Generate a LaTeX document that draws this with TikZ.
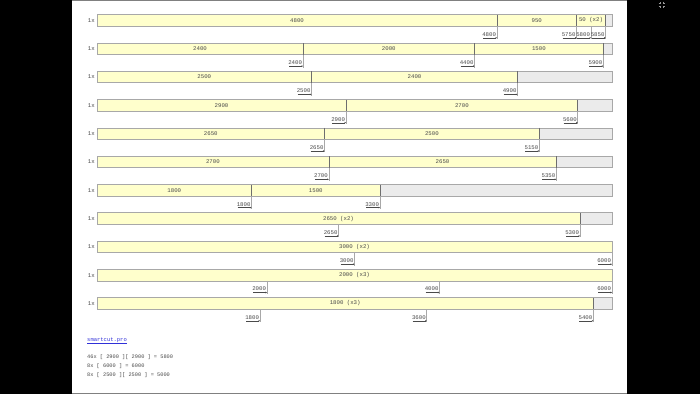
\documentclass[tikz,border=0pt]{standalone}
\usepackage{fontspec}
\setmonofont{Liberation Mono}
\usetikzlibrary{arrows.meta,calc}
\definecolor{barfill}{HTML}{FFFFCC}
\definecolor{wastefill}{HTML}{EBEBEB}
\definecolor{edgecol}{HTML}{A8A8A8}
\definecolor{divcol}{HTML}{6E6E6E}
\definecolor{txtcol}{HTML}{4A4A4A}
\definecolor{linkblue}{HTML}{3030D8}
\newcommand\rowH{11.5}
% #1 name, #2 top y, #3 x1, #4 x2, #5 label
\newcommand\cutseg[5]{%
  \path[fill=barfill] (#3,#2) rectangle (#4,{#2+\rowH});
  \node[barlabel] (#1) at ({(#3+#4)/2},{#2+\rowH/2}) {#5};
}
% #1 top y, #2 x where yellow ends
\newcommand\cutwaste[2]{%
  \path[fill=wastefill] (#2,#1) rectangle (612,{#1+\rowH});
}
% #1 top y
\newcommand\cutframe[1]{%
  \draw[edgecol, line width=0.7pt] (97,#1) rectangle (612,{#1+\rowH});
}
% #1 top y, #2 x
\newcommand\cutdiv[2]{%
  \draw[divcol, line width=0.6pt] (#2,#1) -- (#2,{#1+\rowH});
}
% #1 name, #2 top y, #3 x, #4 label
\newcommand\cuttick[4]{%
  \draw[edgecol, line width=0.5pt] (#3,{#2+\rowH}) -- (#3,{#2+\rowH+13});
  \node[ticklabel] (#1) at ({#3-0.8},{#2+\rowH+10}) {#4};
  \draw[txtcol, line width=0.35pt, -{Stealth[length=1.6pt,width=1.6pt]}] ({#3-14},{#2+\rowH+11.6}) -- (#3,{#2+\rowH+11.6});
}
% #1 name, #2 top y
\newcommand\cutcount[2]{%
  \node[countlabel] (#1) at (95,{#2+\rowH/2}) {1x};
}
\tikzset{
  barlabel/.style={inner sep=0pt, text=txtcol, font=\fontsize{5.7}{6}\selectfont\ttfamily},
  ticklabel/.style={inner sep=0pt, anchor=base east, text=txtcol, font=\fontsize{5.7}{6}\selectfont\ttfamily},
  countlabel/.style={inner sep=0pt, anchor=east, text=txtcol, font=\fontsize{5.7}{6}\selectfont\ttfamily},
  sumline/.style={inner sep=0pt, anchor=base west, text=txtcol, font=\fontsize{5.3}{6}\selectfont\ttfamily},
}
\begin{document}
\begin{tikzpicture}[x=1pt, y=-1pt]
\useasboundingbox (0,0) rectangle (700,394);
\fill[black] (0,0) rectangle (700,394);
\fill[white] (72,0) rectangle (627,394);
\draw[gray, line width=1pt] (72,0.5) -- (627,0.5);
\draw[gray, line width=1pt] (72,393.5) -- (627,393.5);
% fullscreen icon
\begin{scope}[draw=gray!80, line width=0.6pt]
  \draw (658.5,3) -- (660,3) -- (660,1.5);
  \draw (663,1.5) -- (663,3) -- (664.5,3);
  \draw (658.5,6) -- (660,6) -- (660,7.5);
  \draw (663,7.5) -- (663,6) -- (664.5,6);
\end{scope}

% Row 1
\def\ty{14.7}
\cutseg{r1a}{\ty}{97}{497}{4800}
\cutseg{r1b}{\ty}{497}{576.5}{950}
\cutseg{r1c}{\ty}{576.5}{605.5}{50 (x2)}
\cutwaste{\ty}{605.5}
\cutframe{\ty}
\cutdiv{\ty}{497}\cutdiv{\ty}{576.5}\cutdiv{\ty}{605.5}
\cutcount{r1n}{\ty}
\cuttick{r1t1}{\ty}{497}{4800}
\cuttick{r1t2}{\ty}{576.5}{5750}
\cuttick{r1t3}{\ty}{591}{5800}
\cuttick{r1t4}{\ty}{605.5}{5850}

% Row 2
\def\ty{43.0}
\cutseg{r2a}{\ty}{97}{303}{2400}
\cutseg{r2b}{\ty}{303}{474.5}{2000}
\cutseg{r2c}{\ty}{474.5}{603.3}{1500}
\cutwaste{\ty}{603.3}
\cutframe{\ty}
\cutdiv{\ty}{303}\cutdiv{\ty}{474.5}\cutdiv{\ty}{603.3}
\cutcount{r2n}{\ty}
\cuttick{r2t1}{\ty}{303}{2400}
\cuttick{r2t2}{\ty}{474.5}{4400}
\cuttick{r2t3}{\ty}{603.3}{5900}

% Row 3
\def\ty{71.3}
\cutseg{r3a}{\ty}{97}{311.5}{2500}
\cutseg{r3b}{\ty}{311.5}{517.5}{2400}
\cutwaste{\ty}{517.5}
\cutframe{\ty}
\cutdiv{\ty}{311.5}\cutdiv{\ty}{517.5}
\cutcount{r3n}{\ty}
\cuttick{r3t1}{\ty}{311.5}{2500}
\cuttick{r3t2}{\ty}{517.5}{4900}

% Row 4
\def\ty{99.6}
\cutseg{r4a}{\ty}{97}{346}{2900}
\cutseg{r4b}{\ty}{346}{577.7}{2700}
\cutwaste{\ty}{577.7}
\cutframe{\ty}
\cutdiv{\ty}{346}\cutdiv{\ty}{577.7}
\cutcount{r4n}{\ty}
\cuttick{r4t1}{\ty}{346}{2900}
\cuttick{r4t2}{\ty}{577.7}{5600}

% Row 5
\def\ty{127.9}
\cutseg{r5a}{\ty}{97}{324.5}{2650}
\cutseg{r5b}{\ty}{324.5}{539.3}{2500}
\cutwaste{\ty}{539.3}
\cutframe{\ty}
\cutdiv{\ty}{324.5}\cutdiv{\ty}{539.3}
\cutcount{r5n}{\ty}
\cuttick{r5t1}{\ty}{324.5}{2650}
\cuttick{r5t2}{\ty}{539.3}{5150}

% Row 6
\def\ty{156.2}
\cutseg{r6a}{\ty}{97}{328.8}{2700}
\cutseg{r6b}{\ty}{328.8}{556.3}{2650}
\cutwaste{\ty}{556.3}
\cutframe{\ty}
\cutdiv{\ty}{328.8}\cutdiv{\ty}{556.3}
\cutcount{r6n}{\ty}
\cuttick{r6t1}{\ty}{328.8}{2700}
\cuttick{r6t2}{\ty}{556.3}{5350}

% Row 7
\def\ty{184.5}
\cutseg{r7a}{\ty}{97}{251.5}{1800}
\cutseg{r7b}{\ty}{251.5}{380}{1500}
\cutwaste{\ty}{380}
\cutframe{\ty}
\cutdiv{\ty}{251.5}\cutdiv{\ty}{380}
\cutcount{r7n}{\ty}
\cuttick{r7t1}{\ty}{251.5}{1800}
\cuttick{r7t2}{\ty}{380}{3300}

% Row 8
\def\ty{212.8}
\cutseg{r8a}{\ty}{97}{580}{2650 (x2)}
\cutwaste{\ty}{580}
\cutframe{\ty}
\cutdiv{\ty}{580}
\cutcount{r8n}{\ty}
\cuttick{r8t1}{\ty}{338.5}{2650}
\cuttick{r8t2}{\ty}{580}{5300}

% Row 9
\def\ty{241.1}
\cutseg{r9a}{\ty}{97}{612}{3000 (x2)}
\cutframe{\ty}
\cutcount{r9n}{\ty}
\cuttick{r9t1}{\ty}{354.5}{3000}
\cuttick{r9t2}{\ty}{612}{6000}

% Row 10
\def\ty{269.4}
\cutseg{r10a}{\ty}{97}{612}{2000 (x3)}
\cutframe{\ty}
\cutcount{r10n}{\ty}
\cuttick{r10t1}{\ty}{267}{2000}
\cuttick{r10t2}{\ty}{439.5}{4000}
\cuttick{r10t3}{\ty}{612}{6000}

% Row 11
\def\ty{297.7}
\cutseg{r11a}{\ty}{97}{593.3}{1800 (x3)}
\cutwaste{\ty}{593.3}
\cutframe{\ty}
\cutdiv{\ty}{593.3}
\cutcount{r11n}{\ty}
\cuttick{r11t1}{\ty}{260}{1800}
\cuttick{r11t2}{\ty}{426.7}{3600}
\cuttick{r11t3}{\ty}{593.3}{5400}

% footer
\node[inner sep=0pt, anchor=base west, text=linkblue, font=\fontsize{5.5}{6}\selectfont\ttfamily] (link) at (87,341.5) {smartcut.pro};
\draw[linkblue, line width=0.4pt] ($(link.south west)+(0,0.8)$) -- ($(link.south east)+(0,0.8)$);
\node[sumline] (sum1) at (87,358.5) {46x [ 2900 ][ 2900 ] = 5800};
\node[sumline] (sum2) at (87,367.2) {8x [ 6000 ] = 6000};
\node[sumline] (sum3) at (87,376.0) {8x [ 2500 ][ 2500 ] = 5000};
\end{tikzpicture}
\end{document}
